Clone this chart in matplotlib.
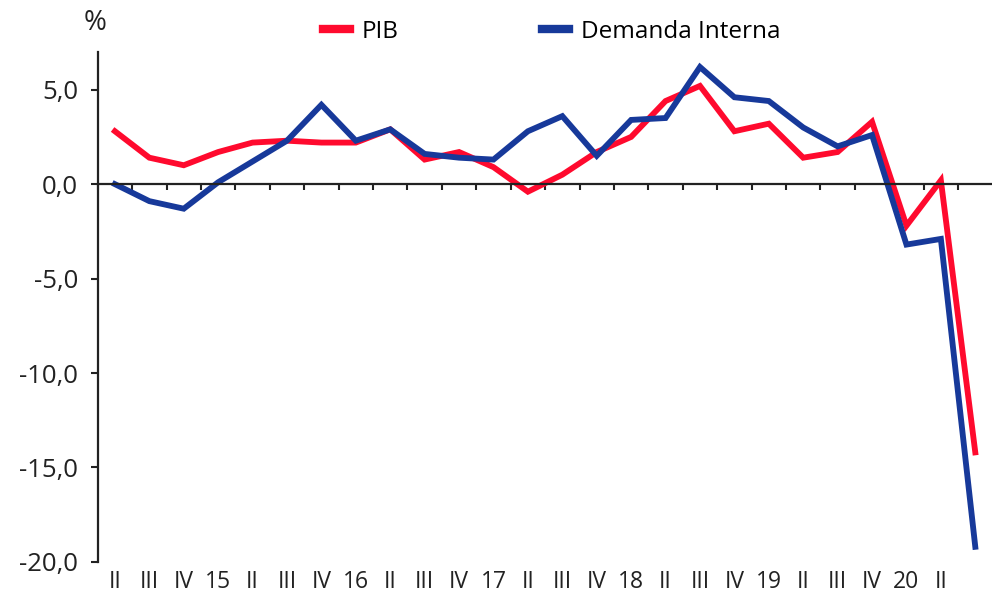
import numpy as np
import matplotlib
matplotlib.use("Agg")
import matplotlib.pyplot as plt

# -----------------------------
# Data (y/y growth, %)
# -----------------------------
quarters = ["II", "III", "IV", "15", "II", "III", "IV", "16", "II", "III", "IV", "17",
            "II", "III", "IV", "18", "II", "III", "IV", "19", "II", "III", "IV", "20",
            "II", ""]

pib = [2.8, 1.4, 1.0, 1.7, 2.2, 2.3, 2.2, 2.2, 2.9, 1.3, 1.7, 0.9,
       -0.4, 0.5, 1.7, 2.5, 4.4, 5.2, 2.8, 3.2, 1.4, 1.7, 3.3, -2.2,
       0.2, -14.2]

demanda = [0.0, -0.9, -1.3, 0.1, 1.2, 2.3, 4.2, 2.3, 2.9, 1.6, 1.4, 1.3,
           2.8, 3.6, 1.5, 3.4, 3.5, 6.2, 4.6, 4.4, 3.0, 2.0, 2.6, -3.2,
           -2.9, -19.2]

RED = "#FF0A2E"
BLUE = "#17399A"

plt.rcParams["font.family"] = ["Open Sans", "DejaVu Sans"]

# -----------------------------
# Figure
# -----------------------------
fig = plt.figure(figsize=(9.92, 5.94), dpi=100)
ax = fig.add_axes([0.0985, 0.054, 0.902, 0.8586])

x = np.arange(len(quarters))
ax.plot(x, pib, color=RED, lw=4.2, label="PIB", solid_joinstyle="miter")
ax.plot(x, demanda, color=BLUE, lw=4.2, label="Demanda Interna", solid_joinstyle="miter")

ax.set_xlim(-0.5, len(quarters) - 0.5)
ax.set_ylim(-20, 7)

# y axis
ax.set_yticks([5, 0, -5, -10, -15, -20])
ax.set_yticklabels(["5,0", "0,0", "-5,0", "-10,0", "-15,0", "-20,0"])
ax.tick_params(axis="y", direction="out", length=5, width=1.5, pad=9,
               labelsize=18.5, color="#222222", labelcolor="#222222")

# zero line with category separators
ax.spines["bottom"].set_position(("data", 0))
ax.set_xticks(np.arange(-0.5, len(quarters) - 0.5, 1))
ax.set_xticklabels([])
ax.tick_params(axis="x", direction="out", length=4, width=1.5, color="#222222")

for s in ["top", "right"]:
    ax.spines[s].set_visible(False)
for s in ["left", "bottom"]:
    ax.spines[s].set_linewidth(1.6)
    ax.spines[s].set_color("#222222")

# category labels at the bottom
sec = ax.secondary_xaxis("bottom")
sec.set_xticks(x, quarters)
sec.spines["bottom"].set_visible(False)
sec.tick_params(length=0, pad=6, labelsize=16.5, labelcolor="#222222")

fig.text(95 / 992, 1 - 23 / 594, "%", ha="center", va="center",
         fontsize=20, color="#222222")

fig.legend(loc="center left", bbox_to_anchor=(323 / 992, 1 - 32 / 594),
           ncol=2, frameon=False, fontsize=17.5, handlelength=1.1,
           handletextpad=0.5, columnspacing=5.9, borderpad=0,
           borderaxespad=0)
for lh in fig.legends[0].legend_handles:
    lh.set_linewidth(6)

fig.savefig("out.png", dpi=100)
